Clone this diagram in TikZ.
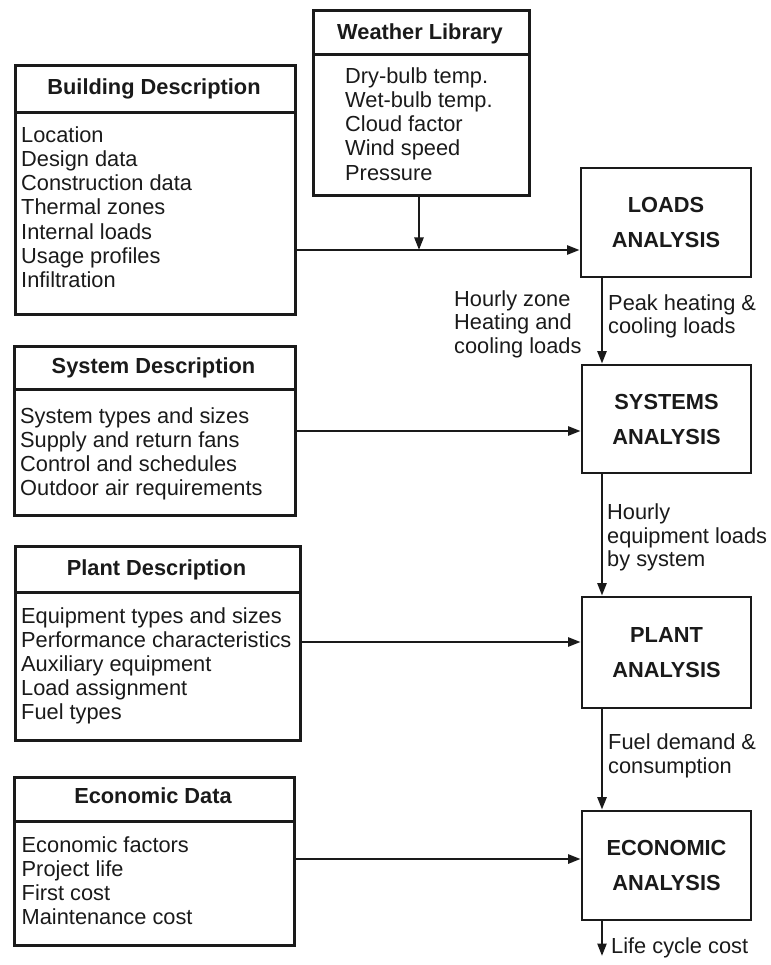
\documentclass[tikz,border=0pt]{standalone}
\usepackage{fontspec}
\setmainfont{Liberation Sans}
\usetikzlibrary{arrows.meta}
\definecolor{ink}{HTML}{1A1A1A}
\begin{document}
\begin{tikzpicture}[x=1pt,y=-1pt,
  frame/.style={draw=ink, line width=2.7pt, inner sep=0pt, anchor=north west},
  headtext/.style={text=ink, font=\fontsize{21.8}{24}\selectfont\bfseries, anchor=base, inner sep=0pt},
  listtext/.style={text=ink, font=\fontsize{21.8}{24.2}\selectfont, align=left, anchor=north west, inner sep=0pt},
  stage/.style={draw=ink, text=ink, line width=2.7pt, inner sep=0pt, align=center,
    font=\fontsize{21.8}{35}\selectfont\bfseries, minimum width=169pt},
  flow/.style={draw=ink, line width=2.4pt, -{Triangle[length=12.5pt,width=9pt]}},
  note/.style={text=ink, font=\fontsize{21.8}{23.6}\selectfont, align=left, anchor=north west, inner sep=0pt}]
\useasboundingbox (0,0) rectangle (770,965);

% ---- input description boxes (header + list) ----
\node[frame, minimum width=280pt, minimum height=47pt] (bldH) at (14,64) {};
\node[frame, minimum width=280pt, minimum height=202pt] (bldB) at (14,111) {};
\node[headtext] (bldT) at (154,95) {Building Description};
\node[listtext] (bldL) at (21,126.4) {Location\\Design data\\Construction data\\Thermal zones\\Internal loads\\Usage profiles\\Infiltration};

\node[frame, minimum width=216pt, minimum height=44pt] (wlH) at (312,9) {};
\node[frame, minimum width=216pt, minimum height=141pt] (wlB) at (312,53) {};
\node[headtext] (wlT) at (420,40) {Weather Library};
\node[listtext] (wlL) at (345,67.4) {Dry-bulb temp.\\Wet-bulb temp.\\Cloud factor\\Wind speed\\Pressure};

\node[frame, minimum width=281pt, minimum height=43pt] (sysH) at (13,345) {};
\node[frame, minimum width=281pt, minimum height=126pt] (sysB) at (13,388) {};
\node[headtext] (sysT) at (153.5,373) {System Description};
\node[listtext] (sysL) at (20,407.1) {System types and sizes\\Supply and return fans\\Control and schedules\\Outdoor air requirements};

\node[frame, minimum width=285pt, minimum height=46pt] (plH) at (14,545) {};
\node[frame, minimum width=285pt, minimum height=148pt] (plB) at (14,591) {};
\node[headtext] (plT) at (156.5,575) {Plant Description};
\node[listtext] (plL) at (21,607) {Equipment types and sizes\\Performance characteristics\\Auxiliary equipment\\Load assignment\\Fuel types};

\node[frame, minimum width=280pt, minimum height=44pt] (ecH) at (13,776) {};
\node[frame, minimum width=280pt, minimum height=124pt] (ecB) at (13,820) {};
\node[headtext] (ecT) at (153,803) {Economic Data};
\node[listtext] (ecL) at (21.5,836.1) {Economic factors\\Project life\\First cost\\Maintenance cost};

% ---- analysis stages ----
\node[stage, minimum width=170pt, minimum height=109pt] (loads) at (666,222.5) {LOADS\\ANALYSIS};
\node[stage, minimum height=108pt] (sysA) at (666.5,419) {SYSTEMS\\ANALYSIS};
\node[stage, minimum height=111pt] (plantA) at (666.5,652.5) {PLANT\\ANALYSIS};
\node[stage, minimum height=109pt] (econA) at (666.5,865.5) {ECONOMIC\\ANALYSIS};

% ---- junctions and the vertical spine ----
\coordinate (lj) at (419,250);
\coordinate (sj) at (440,431);
\coordinate (pj) at (440,642);
\coordinate (ej) at (440,859);
\coordinate (spine) at (602,0);
\coordinate (out) at (602,956);

% ---- connectors ----
\draw[flow] (bldB.east |- lj) -- (loads.west |- lj);
\draw[flow] (wlB.south -| lj) -- (lj);
\draw[flow] (sysB.east |- sj) -- (sysA.west |- sj);
\draw[flow] (plB.east |- pj) -- (plantA.west |- pj);
\draw[flow] (ecB.east |- ej) -- (econA.west |- ej);
\draw[flow] (loads.south -| spine) -- (sysA.north -| spine);
\draw[flow] (sysA.south -| spine) -- (plantA.north -| spine);
\draw[flow] (plantA.south -| spine) -- (econA.north -| spine);
\draw[flow] (econA.south -| spine) -- (out);

% ---- flow labels ----
\node[note] (n1) at (454,290.4) {Hourly zone\\Heating and\\cooling loads};
\node[note] (n2) at (608,294.4) {Peak heating \&\\cooling loads};
\node[note] (n3) at (607,503.4) {Hourly\\equipment loads\\by system};
\node[note] (n4) at (608,733.4) {Fuel demand \&\\consumption};
\node[text=ink, font=\fontsize{21.8}{24}\selectfont, anchor=base west, inner sep=0pt] (n5) at (611,953) {Life cycle cost};
\end{tikzpicture}
\end{document}
